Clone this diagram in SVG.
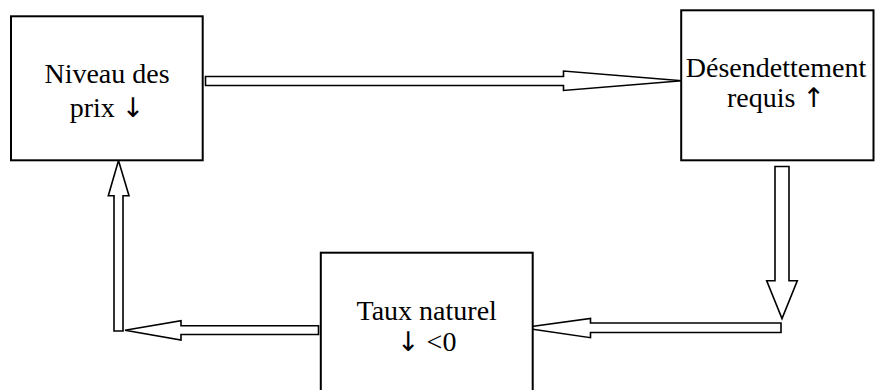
<svg xmlns="http://www.w3.org/2000/svg" width="875" height="390" viewBox="0 0 875 390">
<style>
.box{fill:#fff;stroke:#000;stroke-width:2}
.arr{fill:#fff;stroke:#000;stroke-width:1.6;stroke-linejoin:miter}
.lbl{font-family:"Liberation Serif","Times New Roman",serif;font-size:28px;fill:#000;text-anchor:middle}
.sym{font-family:"DejaVu Sans",sans-serif;font-size:27px;fill:#000}
</style>
<rect width="875" height="390" fill="#fff"/>
<g id="connectors">
<polygon class="arr" points="205.5,76.5 563.5,76.5 563.5,71 682,80.8 563.5,90.5 563.5,85.5 205.5,85.5"/>
<polygon class="arr" points="775,166.5 789,166.5 789,280.7 797.3,280.7 782,318.5 766.7,280.7 775,280.7"/>
<polygon class="arr" points="781,323 590.5,323 590.5,318.5 522.5,327.8 590.5,337.7 590.5,332.5 781,332.5"/>
<polygon class="arr" points="318.5,325.8 181,325.8 181,320.7 125,330.3 181,340 181,334.5 318.5,334.5"/>
<polygon class="arr" points="114,331 123,331 123,195.7 129,195.7 118.5,160.5 108.3,195.7 114,195.7"/>
</g>
<g id="node-prix">
<rect class="box" x="11" y="16.3" width="191.7" height="144"/>
<text class="lbl" x="107" y="83.3">Niveau des</text>
<text class="lbl" x="107" y="117.3">prix <tspan class="sym">↓</tspan></text>
</g>
<g id="node-desendettement">
<rect class="box" x="681.2" y="10.3" width="192.3" height="150"/>
<text class="lbl" x="776" y="76.7">Désendettement</text>
<text class="lbl" x="776" y="106.7">requis <tspan class="sym">↑</tspan></text>
</g>
<g id="node-taux">
<rect class="box" x="320.8" y="252.7" width="211.9" height="150"/>
<text class="lbl" x="426.7" y="320">Taux naturel</text>
<text class="lbl" x="426.7" y="351"><tspan class="sym">↓</tspan> &lt;0</text>
</g>
</svg>
